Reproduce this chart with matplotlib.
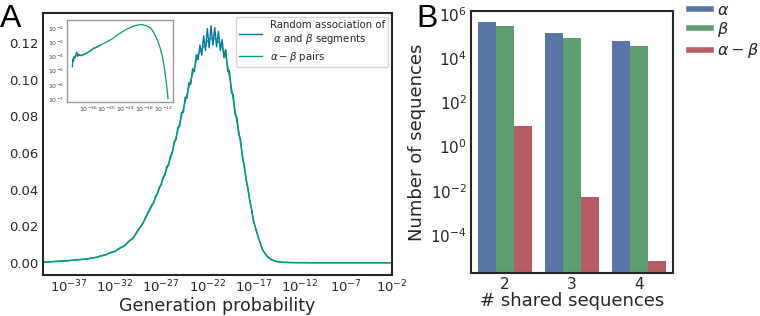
import numpy as np
import matplotlib
matplotlib.use("Agg")
import matplotlib.pyplot as plt
from matplotlib.lines import Line2D
import seaborn as sns

# ---------------- data ----------------
# Panel A: distribution of log10 generation probability
green_logp = [-39.8, -38, -37, -36, -35, -34, -33, -32, -31, -30, -29, -28, -27, -26,
              -25, -24, -23, -22, -21.5, -21, -20.5, -20, -19.5, -19, -18.5, -18,
              -17.5, -17, -16.5, -16, -15.5, -15, -14.5, -14, -13, -10, -6, -2]
green_vals = [0.0003, 0.0008, 0.0012, 0.0016, 0.0021, 0.0030, 0.0044, 0.0063, 0.0093,
              0.0138, 0.0215, 0.031, 0.043, 0.057, 0.076, 0.096, 0.114, 0.121, 0.123,
              0.122, 0.119, 0.113, 0.099, 0.083, 0.069, 0.052, 0.037, 0.023, 0.0142,
              0.0069, 0.0033, 0.0015, 0.0007, 0.0003, 0.0001, 0.0, 0.0, 0.0]

blue_logp = [-39.8, -38, -37, -36, -35, -34.5, -34, -33.5, -33, -32.5, -32, -31.5, -31,
             -30.5, -30, -29.5, -29, -28.5,
             -28.0, -27.8, -27.6, -27.4, -27.2, -27.0, -26.8, -26.6, -26.4, -26.2,
             -26.0, -25.8, -25.6, -25.4, -25.2, -25.0, -24.8, -24.6, -24.4, -24.2,
             -24.0, -23.8, -23.6, -23.4, -23.2, -23.0, -22.8, -22.6, -22.4, -22.2,
             -22.0, -21.8, -21.6, -21.4, -21.2, -21.0, -20.8, -20.6, -20.4, -20.2,
             -20.0, -19.8, -19.6, -19.4, -19.2, -19.0, -18.8, -18.6, -18.4, -18.2,
             -18.0, -17.8, -17.6, -17.4, -17.2, -17.0,
             -16.5, -16, -15.5, -15, -14.5, -14, -13, -10, -2]
blue_vals = [0.0003, 0.0009, 0.0011, 0.0017, 0.0020, 0.0027, 0.0029, 0.0038, 0.0043,
             0.0056, 0.0062, 0.0080, 0.0091, 0.0118, 0.0136, 0.0180, 0.0212, 0.0268,
             0.0318, 0.0328, 0.0366, 0.0376, 0.0414, 0.0424, 0.0468, 0.0478, 0.0526,
             0.0532, 0.0585, 0.0596, 0.0662, 0.0670, 0.0740, 0.0745, 0.0822, 0.0822,
             0.0905, 0.0900, 0.0985, 0.0975, 0.1060, 0.1045, 0.1135, 0.1110, 0.1190,
             0.1135, 0.1240, 0.1160, 0.1280, 0.1175, 0.1295, 0.1190, 0.1285, 0.1180,
             0.1265, 0.1160, 0.1220, 0.1120, 0.1165, 0.1045, 0.1050, 0.0930, 0.0920,
             0.0810, 0.0795, 0.0700, 0.0672, 0.0575, 0.0530, 0.0452, 0.0408, 0.0336,
             0.0292, 0.0226,
             0.0142, 0.0069, 0.0033, 0.0015, 0.0007, 0.0003, 0.0001, 0.0, 0.0]

# inset (log10 x, log10 y)
inset_blue_logx = [-41.1, -40.9, -40.7, -40.5, -40.2, -40.0, -39.6, -39.3, -39.0, -38.8,
                   -38.2, -37.5, -36.8, -36.0, -35.2, -34.3, -33.5, -32.1]
inset_blue_logy = [-4.72, -4.20, -4.35, -4.00, -4.10, -3.85, -3.70, -4.00, -3.85, -3.92,
                   -3.95, -3.88, -3.80, -3.70, -3.60, -3.43, -3.38, -3.20]
inset_green_logx = [-40.8, -40.0, -39.0, -38.0, -37.0, -36.0, -34.3, -33.5, -32.1, -30.0,
                    -28.0, -26.7, -24.0, -21.4, -19.5, -18.7, -17.5, -16.0, -15.0,
                    -13.8, -13.0, -12.2, -11.7, -11.2, -10.8, -10.4]
inset_green_logy = [-4.15, -3.95, -3.92, -3.90, -3.82, -3.70, -3.43, -3.35, -3.20, -2.97,
                    -2.73, -2.49, -2.12, -1.86, -1.77, -1.77, -1.83, -2.00, -2.30,
                    -2.85, -3.35, -4.00, -4.60, -5.40, -6.10, -6.95]

a_xticks_exp = [-37, -32, -27, -22, -17, -12, -7, -2]
a_yticks = [0.00, 0.02, 0.04, 0.06, 0.08, 0.10, 0.12]
inset_xticks_exp = [-36, -30, -24, -18, -12]
inset_yticks_exp = [-2, -3, -4, -5, -6, -7]

# Panel B
shared = ["2", "3", "4"]
n_alpha = [4.0e5, 1.35e5, 6.0e4]
n_beta = [2.7e5, 8.0e4, 3.5e4]
n_ab = [8.0, 5.4e-3, 6.6e-6]
b_yticks_exp = [6, 4, 2, 0, -2, -4]

# ---------------- styling ----------------
plt.rcParams['font.family'] = ['DejaVu Sans']
plt.rcParams['mathtext.fontset'] = 'dejavusans'
TXT = '#262626'
blue_c = '#0173B2'
green_c = '#029E73'
deep = sns.color_palette('deep')
bar_cols = [sns.desaturate(deep[0], 0.75), sns.desaturate(deep[2], 0.75),
            sns.desaturate(deep[3], 0.75)]

fig = plt.figure(figsize=(7.6, 3.16), dpi=100)

# ---------------- Panel A ----------------
axA = fig.add_axes([43/760, 41/316, 349/760, 262/316])
axA.plot(10.0**np.array(blue_logp), blue_vals, color=blue_c, lw=1.0,
         label='Random association of\n $\\alpha$ and $\\beta$ segments')
axA.plot(10.0**np.array(green_logp), green_vals, color=green_c, lw=1.0,
         label='$\\alpha-\\beta$ pairs')
axA.set_xscale('log')
axA.set_xlim(10.0**-39.8, 10.0**-2)
axA.set_ylim(-0.0067, 0.1365)
axA.set_xticks([10.0**e for e in a_xticks_exp])
axA.set_xticklabels(['$10^{%d}$' % e for e in a_xticks_exp])
axA.xaxis.set_minor_locator(matplotlib.ticker.NullLocator())
axA.set_yticks(a_yticks)
axA.set_yticklabels(['%.2f' % v for v in a_yticks])
axA.tick_params(length=0, labelsize=9.5, colors=TXT, pad=3)
axA.set_xlabel('Generation probability', fontsize=12.5, color=TXT, labelpad=1)
for s in axA.spines.values():
    s.set_color(TXT)
    s.set_linewidth(1.5)
leg = axA.legend(loc='upper right', fontsize=7.3, frameon=True, borderaxespad=0.4,
                 handlelength=2.2, labelspacing=0.35, borderpad=0.3)
leg.get_frame().set_edgecolor('#cccccc')
for t in leg.get_texts():
    t.set_color(TXT)

# inset
axI = fig.add_axes([67/760, 214/316, 106/760, 82/316])
axI.plot(10.0**np.array(inset_blue_logx), 10.0**np.array(inset_blue_logy),
         color=blue_c, lw=0.9)
axI.plot(10.0**np.array(inset_green_logx), 10.0**np.array(inset_green_logy),
         color=green_c, lw=0.9)
axI.set_xscale('log')
axI.set_yscale('log')
axI.set_xlim(10.0**-42.8, 10.0**-8.8)
axI.set_ylim(10.0**-7.2, 10.0**-1.44)
axI.set_xticks([10.0**e for e in inset_xticks_exp])
axI.set_xticklabels(['$10^{%d}$' % e for e in inset_xticks_exp])
axI.set_yticks([10.0**e for e in inset_yticks_exp])
axI.set_yticklabels(['$10^{%d}$' % e for e in inset_yticks_exp])
axI.xaxis.set_minor_locator(matplotlib.ticker.NullLocator())
axI.yaxis.set_minor_locator(matplotlib.ticker.NullLocator())
axI.tick_params(length=0, labelsize=4.5, colors='#444444', pad=2)
for s in axI.spines.values():
    s.set_color('#999999')
    s.set_linewidth(1.0)

# ---------------- Panel B ----------------
axB = fig.add_axes([471/760, 43/316, 202/760, 262/316])
x = np.arange(len(shared))
w = 0.8 / 3
axB.bar(x - w, n_alpha, width=w, color=bar_cols[0], bottom=1e-9)
axB.bar(x, n_beta, width=w, color=bar_cols[1], bottom=1e-9)
axB.bar(x + w, n_ab, width=w, color=bar_cols[2], bottom=1e-9)
axB.set_yscale('log')
axB.set_ylim(10.0**-5.72, 10.0**6.12)
axB.set_xlim(-0.5, 2.5)
axB.set_xticks(x)
axB.set_xticklabels(shared)
axB.set_yticks([10.0**e for e in b_yticks_exp])
axB.set_yticklabels(['$10^{%d}$' % e for e in b_yticks_exp])
axB.yaxis.set_minor_locator(matplotlib.ticker.NullLocator())
axB.tick_params(length=0, labelsize=11, colors=TXT, pad=3)
axB.set_xlabel('# shared sequences', fontsize=13, color=TXT, labelpad=0)
axB.set_ylabel('Number of sequences', fontsize=13, color=TXT, labelpad=3)
for s in axB.spines.values():
    s.set_color(TXT)
    s.set_linewidth(1.5)
handles = [Line2D([], [], color=c, lw=4) for c in bar_cols]
leg2 = fig.legend(handles, ['$\\alpha$', '$\\beta$', '$\\alpha-\\beta$'],
                  loc='upper left', bbox_to_anchor=(687/760, 0.997), frameon=False,
                  fontsize=11.5, handlelength=1.4, handletextpad=0.4, labelspacing=0.15,
                  borderpad=0.1, borderaxespad=0.0)
for t in leg2.get_texts():
    t.set_color(TXT)

fig.text(0.0, 1 - 4/316, 'A', fontsize=23, family='Liberation Sans', va='top',
         ha='left', color='black')
fig.text(416/760, 1 - 4/316, 'B', fontsize=23, family='Liberation Sans', va='top',
         ha='left', color='black')

fig.savefig('out.png', dpi=100)
